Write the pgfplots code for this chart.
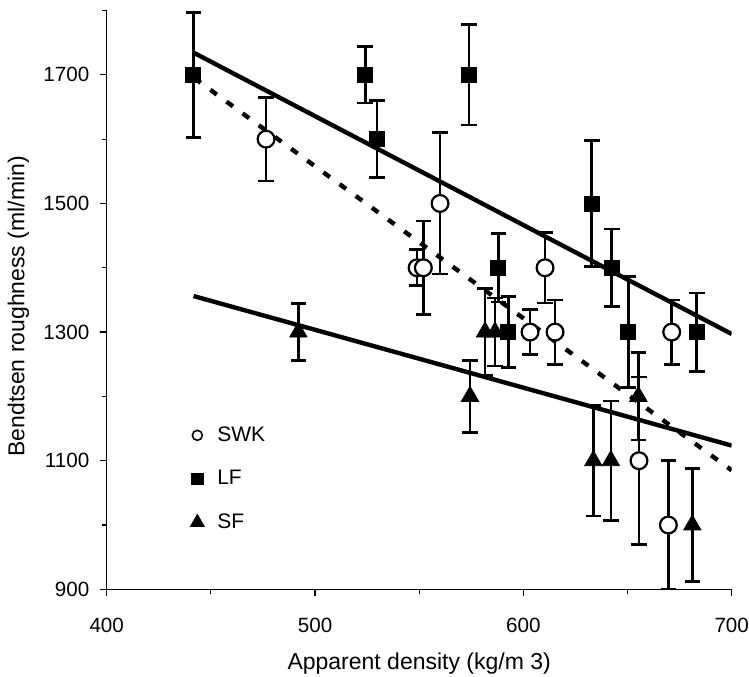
\documentclass[border=0pt]{standalone}
\usepackage{fontspec}
\setmainfont{Liberation Sans}
\usepackage{pgfplots}
\pgfplotsset{compat=1.18}
\begin{document}
\begin{tikzpicture}
\useasboundingbox (-53.35pt,-43.35pt) rectangle (321.15pt,294.65pt);
\begin{axis}[
  scale only axis, width=312.5pt, height=289.4pt,
  xmin=400, xmax=700, ymin=900, ymax=1800,
  axis x line*=bottom, axis y line*=left,
  axis line style={line width=0.6pt, -},
  xtick={400,500,600,700}, minor xtick={450,550,650},
  ytick={900,1100,1300,1500,1700}, minor ytick={1000,1200,1400,1600,1800},
  tick align=outside, major tick length=3.3pt, minor tick length=2.5pt,
  every tick/.style={line width=0.6pt, black},
  /pgf/number format/assume math mode=true,
  /pgf/number format/1000 sep={},
  ticklabel style={font=\fontsize{10.3}{12}\selectfont},
  xticklabel style={yshift=-7.5pt},
  yticklabel style={xshift=-1.9pt},
  xlabel={Apparent density (kg/m 3)},
  ylabel={Bendtsen roughness (ml/min)},
  label style={font=\fontsize{11.5}{13}\selectfont},
  xlabel style={at={(axis description cs:0.5,-0.1394)}, anchor=base},
  ylabel style={at={(axis description cs:-0.1414,0.489)}, anchor=center},
  legend image code/.code={\draw[#1] plot coordinates {(0cm,0cm)};},
  legend style={at={(axis cs:440,1160)}, anchor=north west, draw=none, fill=none,
    font=\fontsize{10.5}{12}\selectfont, row sep=9pt, column sep=4.5pt, inner sep=0pt,
    nodes={inner sep=2pt}, cells={anchor=west}},
  legend entries={SWK,LF,SF},
]
\addlegendimage{only marks, mark=*, mark options={fill=white, draw=black, line width=0.8pt}, mark size=2.5pt}
\addlegendimage{only marks, mark=square*, mark size=2.8pt, black}
\addlegendimage{only marks, mark=triangle*, mark size=4pt, black}

% regression lines
\addplot[forget plot, line width=2.2pt, black] coordinates {(442,1734) (700,1297)};
\addplot[forget plot, line width=2.2pt, black] coordinates {(441.7,1356) (700,1123.5)};
\addplot[forget plot, line width=2.2pt, black, dash pattern=on 4pt off 6pt] coordinates {(442,1695) (700,1085)};

% SWK
\addplot[forget plot, only marks, black, mark=*, mark size=4.2pt,
  mark options={fill=white, draw=black, line width=1.1pt},
  error bars/.cd, y dir=both, y explicit,
  error bar style={line width=1.3pt, black},
  error mark options={rotate=90, mark size=3.9pt, line width=1.3pt, black}]
coordinates {
 (476.5,1600) +- (0,65)
 (549,1400) +- (0,28)
 (552,1400) +- (0,73)
 (560,1500) +- (0,110)
 (603.2,1300) +- (0,35)
 (610.4,1400) +- (0,55)
 (615.2,1300) +- (0,50)
 (655.5,1100) +- (0,130)
 (669.6,1000) +- (0,100)
 (671.2,1300) +- (0,50)
};

% LF
\addplot[forget plot, only marks, black, mark=square*, mark size=3.75pt,
  error bars/.cd, y dir=both, y explicit,
  error bar style={line width=1.3pt, black},
  error mark options={rotate=90, mark size=3.9pt, line width=1.3pt, black}]
coordinates {
 (441.6,1700) +- (0,97)
 (524.1,1700) +- (0,44)
 (529.8,1600) +- (0,60)
 (573.9,1700) +- (0,78)
 (588,1400) +- (0,53)
 (592.8,1300) +- (0,55)
 (632.8,1500) +- (0,98)
 (642.4,1400) +- (0,60)
 (650.4,1300) +- (0,86)
 (683.2,1300) +- (0,61)
};

% SF
\addplot[forget plot, only marks, black, mark=triangle*, mark size=5pt,
  error bars/.cd, y dir=both, y explicit,
  error bar style={line width=1.3pt, black},
  error mark options={rotate=90, mark size=3.9pt, line width=1.3pt, black}]
coordinates {
 (492,1300) +- (0,44)
 (574.4,1200) +- (0,56)
 (581.6,1300) +- (0,68)
 (586.4,1300) +- (0,53)
 (633.6,1100) +- (0,86)
 (642,1100) +- (0,93)
 (655.2,1200) +- (0,68)
 (681.1,1000) +- (0,88)
};
\end{axis}
\end{tikzpicture}
\end{document}
